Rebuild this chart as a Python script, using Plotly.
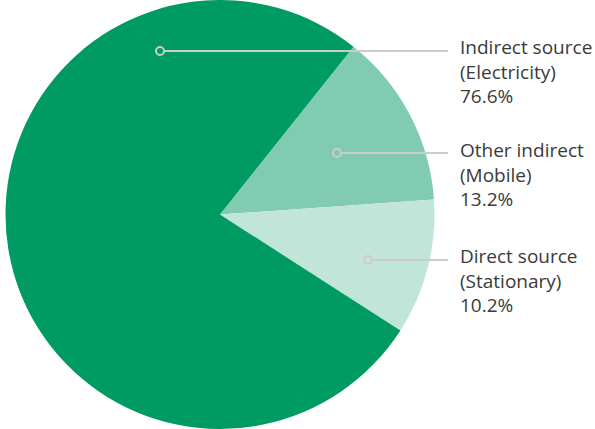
import plotly.graph_objects as go

labels = ["Other indirect (Mobile)", "Direct source (Stationary)", "Indirect source (Electricity)"]
values = [13.2, 10.2, 76.6]
colors = ["#80cbb1", "#c1e6d9", "#009a63"]
label_lines = [["Other indirect", "(Mobile)", "13.2%"],
               ["Direct source", "(Stationary)", "10.2%"],
               ["Indirect source", "(Electricity)", "76.6%"]]

W, H = 595, 429
# callout anchor points (pixels) and text block centres
points = [(337, 153), (368, 260), (160, 51)]
text_y = [174, 280, 71]

fig = go.Figure(go.Pie(
    labels=labels, values=values, sort=False, direction="clockwise",
    rotation=38.5, marker=dict(colors=colors, line=dict(width=0)),
    textinfo="none", hoverinfo="label+percent",
    domain=dict(x=[0, 440 / W], y=[0, 1]), showlegend=False,
))

shapes = []
annotations = []
for (px, py), ty, lines in zip(points, text_y, label_lines):
    shapes.append(dict(type="line", xref="paper", yref="paper",
                       x0=(px + 4) / W, x1=448 / W, y0=1 - py / H, y1=1 - py / H,
                       line=dict(color="#cccccc", width=2)))
    shapes.append(dict(type="circle", xref="paper", yref="paper",
                       x0=(px - 4) / W, x1=(px + 4) / W,
                       y0=1 - (py + 4) / H, y1=1 - (py - 4) / H,
                       line=dict(color="#cccccc", width=2), fillcolor="rgba(0,0,0,0)"))
    annotations.append(dict(xref="paper", yref="paper", x=458 / W, y=1 - ty / H,
                            xanchor="left", yanchor="middle", align="left",
                            showarrow=False, text="<br>".join(lines),
                            font=dict(family="Open Sans", size=19, color="#3a3a3a")))

fig.update_layout(width=W, height=H, margin=dict(l=0, r=0, t=0, b=0),
                  paper_bgcolor="white", plot_bgcolor="white",
                  shapes=shapes, annotations=annotations)
fig.write_html("out.html", config={"displayModeBar": False},
               post_script="document.body.style.margin='0';document.body.style.overflow='hidden';")
